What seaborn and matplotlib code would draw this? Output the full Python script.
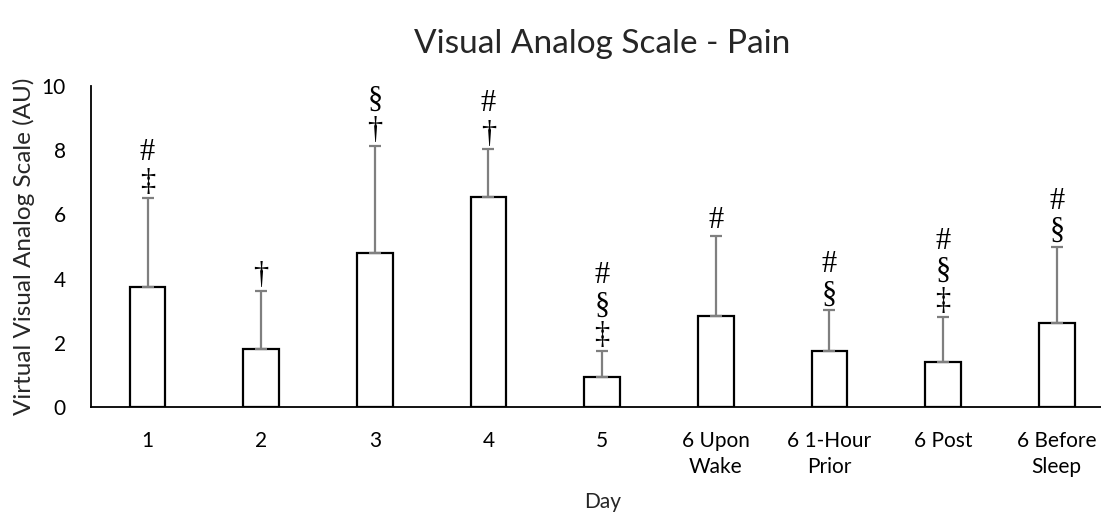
import matplotlib
matplotlib.use("Agg")
import matplotlib.pyplot as plt
import seaborn as sns
import pandas as pd
import numpy as np

categories = ["1", "2", "3", "4", "5", "6 Upon\nWake", "6 1-Hour\nPrior", "6 Post", "6 Before\nSleep"]
means = [3.74, 1.81, 4.79, 6.53, 0.94, 2.84, 1.75, 1.39, 2.61]
sd_upper = [2.78, 1.81, 3.34, 1.50, 0.80, 2.50, 1.27, 1.42, 2.38]
markers = ["#\n‡", "†", "§\n†", "#\n†", "#\n§\n‡", "#", "#\n§", "#\n§\n‡", "#\n§"]

sns.set_theme(style="white")
plt.rcParams['font.family'] = ['Lato', 'DejaVu Sans']

fig = plt.figure(figsize=(11.01, 5.17), dpi=100)
ax = fig.add_axes([0.0824, 0.2128, 0.929, 0.621])

df = pd.DataFrame({"Day": categories, "VAS": means})
sns.barplot(data=df, x="Day", y="VAS", color="white", edgecolor="black",
            linewidth=1.6, width=0.315, errorbar=None, ax=ax)

xpos = np.arange(len(categories))
ax.errorbar(xpos, means, yerr=[np.zeros(len(means)), sd_upper], fmt="none",
            ecolor="#7f7f7f", elinewidth=1.6, capsize=4.5, capthick=1.6, zorder=1)

for x, m, e, s in zip(xpos, means, sd_upper, markers):
    ax.text(x, m + e + 0.02, s, ha="center", va="bottom", fontsize=22,
            family=["Liberation Serif", "DejaVu Serif"], linespacing=1.05, color="black")

ax.set_ylim(0, 10)
ax.set_xlim(-0.5, len(categories) - 0.5)
ax.set_yticks([0, 2, 4, 6, 8, 10])
ax.tick_params(axis="both", length=0, labelsize=15, colors="black")
ax.tick_params(axis="x", pad=17)
ax.tick_params(axis="y", pad=18)
for lab in ax.get_xticklabels():
    lab.set_linespacing(1.4)
ax.set_xlabel("Day", fontsize=15, labelpad=11)
ax.set_ylabel("Virtual Visual Analog Scale (AU)", fontsize=17.5)
ax.yaxis.set_label_coords(-0.054, 0.5)
ax.set_title("Visual Analog Scale - Pain", fontsize=24, pad=24)
for side in ["top", "right"]:
    ax.spines[side].set_visible(False)
for side in ["left", "bottom"]:
    ax.spines[side].set_color("black")
    ax.spines[side].set_linewidth(1.3)

fig.savefig("out.png", dpi=100)
